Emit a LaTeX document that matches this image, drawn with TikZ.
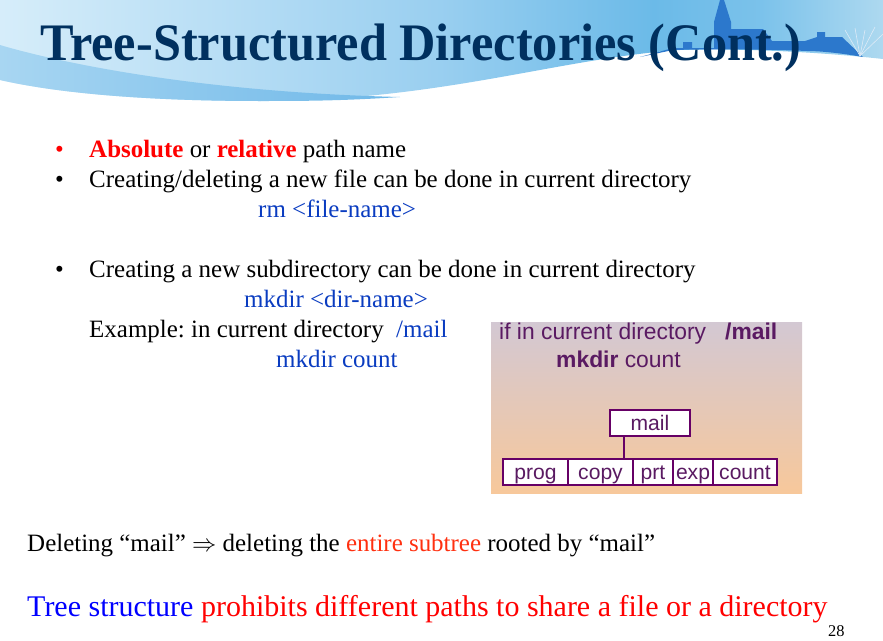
\documentclass[tikz,border=0pt]{standalone}
\usepackage{fontspec}
\setmainfont{Liberation Serif}
\setsansfont{Liberation Sans}
\usepackage{graphicx}
\usetikzlibrary{calc}
\definecolor{titleblue}{HTML}{00305F}
\definecolor{linkblue}{HTML}{0A3CC0}
\definecolor{boxpurple}{HTML}{660066}
\definecolor{txtpurple}{HTML}{5A1A62}
\definecolor{hotred}{HTML}{FF3010}
\definecolor{roofblue}{HTML}{2C78CC}
\definecolor{insettop}{HTML}{D3C8D3}
\definecolor{insetbot}{HTML}{F7C89B}
\definecolor{bandleft}{HTML}{A8D6F2}
\definecolor{bandright}{HTML}{6FB8E8}
\pgfdeclarehorizontalshading{skyfill}{100bp}{
  rgb(0bp)=(0.84,0.93,0.98);
  rgb(25bp)=(0.84,0.93,0.98);
  rgb(50bp)=(0.60,0.81,0.94);
  rgb(62bp)=(0.42,0.73,0.91);
  rgb(68bp)=(0.48,0.76,0.92);
  rgb(75bp)=(0.68,0.85,0.94);
  rgb(100bp)=(0.68,0.85,0.94)}
\tikzset{
  body/.style={anchor=base west,inner sep=0pt,font=\fontsize{21.3}{24}\selectfont\frenchspacing},
  cmd/.style={body,text=linkblue},
  small/.style={anchor=base west,inner sep=0pt,text=txtpurple,font=\sffamily\fontsize{19.5}{22}\selectfont},
  dirbox/.style={draw=boxpurple,line width=1.6pt,fill=white,inner sep=0pt,text=txtpurple,font=\sffamily\fontsize{18}{20}\selectfont,minimum height=21.5pt,text height=14pt,text depth=1.6pt}
}
\begin{document}
\begin{tikzpicture}[x=0.03cm,y=-0.03cm]
\useasboundingbox (0,0) rectangle (883,641);
% banner
\shade[shading=skyfill]
  (0,0) -- (883,0) -- (883,59) .. controls (820,52) and (740,48) .. (680,50)
  .. controls (560,58) and (440,101) .. (260,101) .. controls (170,101) and (70,96) .. (0,80) -- cycle;
\shade[left color=bandleft,right color=bandright]
  (0,45) .. controls (50,60) and (190,92) .. (400,97)
  .. controls (340,101) and (300,101) .. (260,101) .. controls (170,101) and (70,96) .. (0,80) -- cycle;
% church and houses
\fill[roofblue] (720,0) -- (724,0) -- (731,22) -- (731,29) -- (763,29) -- (772,41) -- (805,41)
  -- (817,37) -- (817,32) -- (825,32) -- (825,37) -- (842,37) -- (863,57)
  .. controls (840,53) and (820,51) .. (807,51) .. controls (760,49) and (710,49) .. (673,50)
  -- (640,57) -- (673,48) -- (683,48) -- (683,42) -- (692,42) -- (692,48) -- (714,48) -- (714,22) -- cycle;
\foreach \tx/\ty in {845/30,855/28,865/30,875/27,883/34}
  \draw[white!50!roofblue!30!white,line width=0.5pt] (\tx,\ty) -- (860,56);
% text
\node[body] (title) at (40,60) {\scalebox{0.955}[1]{\fontsize{45}{50}\selectfont\bfseries\textcolor{titleblue}{Tree-Structured Directories (Cont.)}}};
\node[body,text=red] (b1) at (55,157) {•};
\node[body] (l1) at (89,157) {\textcolor{red}{\textbf{Absolute}} or \textcolor{red}{\textbf{relative}} path name};
\node[body] (b2) at (55,187) {•};
\node[body] (l2) at (89,187) {Creating/deleting a new file can be done in current directory};
\node[cmd] (l3) at (258,217) {rm <file-name>};
\node[body] (b3) at (55,277) {•};
\node[body] (l4) at (89,277) {Creating a new subdirectory can be done in current directory};
\node[cmd] (l5) at (244,307) {mkdir <dir-name>};
\node[body] (l6) at (89,337) {Example: in current directory\ \ \textcolor{linkblue}{/mail}};
\node[cmd] (l7) at (276,367) {mkdir count};
\node[body] (l8) at (27,551) {Deleting “mail” $\Rightarrow$ deleting the \textcolor{hotred}{entire subtree} rooted by “mail”};
\node[body,font=\fontsize{25.6}{28}\selectfont] (l9) at (27,616) {\textcolor{blue}{Tree structure} \textcolor{red}{prohibits different paths to share a file or a directory}};
\node[body,font=\fontsize{14}{16}\selectfont] (page) at (828,636) {28};
% inset
\shade[top color=insettop,bottom color=insetbot] (491,322) rectangle (802,493);
\node[small] (t1) at (499,339) {if in current directory\ \ \ \textbf{/mail}};
\node[small] (t2) at (556,367) {\textbf{mkdir} count};
\node[dirbox,minimum width=68pt] (mail) at (650,423) {mail};
\node[dirbox,minimum width=55.5pt] (prog) at (535.5,472) {prog};
\node[dirbox,minimum width=55.5pt] (copy) at (600.5,472) {copy};
\node[dirbox,minimum width=34pt] (prt) at (653,472) {prt};
\node[dirbox,minimum width=34pt] (exp) at (693,472) {exp};
\node[dirbox,minimum width=54.5pt] (count) at (745,472) {count};
\coordinate (drop) at ($(mail.south west)+(15,0)$);
\draw[boxpurple,line width=1.6pt] (drop) -- (drop |- copy.north);
\end{tikzpicture}
\end{document}
